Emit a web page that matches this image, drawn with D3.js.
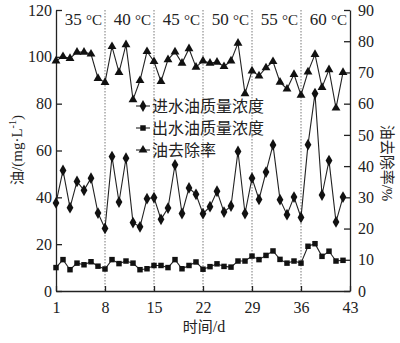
<!DOCTYPE html>
<html>
<head>
<meta charset="utf-8">
<script src="https://cdn.jsdelivr.net/npm/d3@7"></script>
<style>
  html, body { margin: 0; padding: 0; background: #fff; }
  svg { display: block; }
</style>
</head>
<body>
<svg id="chart" width="400" height="343"></svg>
<script>
// Days of operation
const days = d3.range(1, 43);
// Inlet oil concentration, mg/L (left axis)
const inletOil = [37.6, 51.5, 35.6, 46.8, 43.0, 48.2, 33.3, 26.7, 57.4, 38.0,
                  56.7, 29.2, 27.4, 39.4, 39.9, 30.6, 35.4, 53.9, 33.1, 44.0,
                  41.3, 33.0, 36.0, 42.6, 33.7, 36.3, 59.6, 33.1, 48.2, 39.1,
                  50.8, 62.4, 39.0, 32.6, 40.1, 31.4, 62.5, 84.3, 41.0, 55.7,
                  29.5, 40.1];
// Outlet oil concentration, mg/L (left axis)
const outletOil = [10.0, 13.4, 9.1, 11.9, 11.2, 12.5, 10.6, 9.4, 13.4, 11.7,
                   12.8, 11.9, 9.1, 9.5, 10.9, 10.9, 10.0, 13.4, 9.5, 10.9,
                   12.4, 9.3, 10.4, 11.6, 10.5, 10.2, 12.8, 12.8, 14.9, 13.4,
                   15.2, 17.1, 13.5, 11.9, 12.8, 11.9, 19.1, 20.2, 14.8, 17.0,
                   12.8, 13.1];
// Oil removal rate, % (right axis)
const removalRate = [73.7, 75.1, 74.5, 76.5, 76.5, 75.9, 68.1, 66.8, 78.3, 70.0,
                     78.9, 61.3, 67.4, 76.7, 73.5, 67.1, 74.1, 76.6, 73.0, 77.6,
                     71.7, 73.7, 73.0, 73.3, 71.9, 73.7, 79.4, 63.2, 70.5, 68.9,
                     71.5, 73.5, 66.9, 64.7, 69.4, 62.7, 70.2, 75.8, 65.2, 70.9,
                     58.6, 70.0];
// Temperature stages and their boundaries (day)
const stageBounds = [1, 8, 15, 22, 29, 36, 43];
const stageTemps = ["35", "40", "45", "50", "55", "60"];
const xTicks = [1, 8, 15, 22, 29, 36, 43];
const leftTicks = [0, 20, 40, 60, 80, 100, 120];
const rightTicks = [0, 10, 20, 30, 40, 50, 60, 70, 80, 90];
const legendLabels = ["进水油质量浓度", "出水油质量浓度", "油去除率"];

const svg = d3.select("#chart");
const plotL = 56, plotR = 350, plotT = 10, plotB = 291;

const x = d3.scaleLinear().domain([1, 43]).range([plotL, plotR]);
const yL = d3.scaleLinear().domain([0, 120]).range([plotB, plotT]);
const yR = d3.scaleLinear().domain([0, 90]).range([plotB, plotT]);

const serif = '"Times New Roman", "Liberation Serif", "DejaVu Serif", serif';
const cjk = '"Noto Sans CJK SC", "Noto Sans", sans-serif';

// Stage separators
svg.append("g").selectAll("line")
  .data(stageBounds.slice(1, -1))
  .join("line")
  .attr("x1", d => x(d)).attr("x2", d => x(d))
  .attr("y1", plotT).attr("y2", plotB)
  .attr("stroke", "#555").attr("stroke-width", 0.8)
  .attr("stroke-dasharray", "1.5,1.5");

// Stage labels: temperature digits plus a serif °C
const st = svg.append("g").selectAll("text")
  .data(stageTemps)
  .join("text")
  .attr("x", (d, i) => (x(stageBounds[i]) + x(stageBounds[i + 1])) / 2 + 3)
  .attr("y", 25)
  .attr("text-anchor", "middle")
  .attr("font-family", serif)
  .attr("font-size", 17)
  .attr("fill", "#222");
st.append("tspan").text(d => d + " ");
st.append("tspan").attr("font-size", 15).text("°C");

// Axes (ticks pointing inward)
const gx = svg.append("g").attr("transform", `translate(0,${plotB})`)
  .call(d3.axisBottom(x).tickValues(xTicks).tickSizeInner(-5).tickSizeOuter(0).tickPadding(9).tickFormat(d3.format("d")));
const gl = svg.append("g").attr("transform", `translate(${plotL},0)`)
  .call(d3.axisLeft(yL).tickValues(leftTicks).tickSizeInner(-6).tickSizeOuter(0).tickPadding(4));
const gr = svg.append("g").attr("transform", `translate(${plotR},0)`)
  .call(d3.axisRight(yR).tickValues(rightTicks).tickSizeInner(-6).tickSizeOuter(0).tickPadding(8));
[gx, gl, gr].forEach(g => {
  g.attr("font-family", serif).attr("font-size", 16);
  g.select(".domain").attr("stroke", "#222").attr("stroke-width", 1.3);
  g.selectAll(".tick line").attr("stroke", "#222").attr("stroke-width", 1.3);
  g.selectAll(".tick text").attr("fill", "#222");
});
gx.selectAll(".tick text").attr("dy", "0.8em");

// Series
const series = [
  { values: inletOil, y: yL, shape: d3.symbolDiamond, size: 40 },
  { values: outletOil, y: yL, shape: d3.symbolSquare, size: 30 },
  { values: removalRate, y: yR, shape: d3.symbolTriangle, size: 34 }
];

series.forEach(s => {
  const pts = days.map((d, i) => [x(d), s.y(s.values[i])]);
  svg.append("path")
    .attr("d", d3.line()(pts))
    .attr("fill", "none").attr("stroke", "#222").attr("stroke-width", 1.1);
  svg.append("g").selectAll("path")
    .data(pts)
    .join("path")
    .attr("transform", p => `translate(${p[0]},${p[1]})`)
    .attr("d", d3.symbol().type(s.shape).size(s.size))
    .attr("fill", "#111");
});

// Legend
const lg = svg.append("g");
legendLabels.forEach((lab, i) => {
  const ly = 106 + i * 22;
  lg.append("line").attr("x1", 136).attr("x2", 150).attr("y1", ly).attr("y2", ly)
    .attr("stroke", "#222").attr("stroke-width", 1.1);
  lg.append("path").attr("transform", `translate(143,${ly})`)
    .attr("d", d3.symbol().type(series[i].shape).size(series[i].size))
    .attr("fill", "#111");
  lg.append("text").attr("x", 152).attr("y", ly + 6)
    .attr("font-family", cjk).attr("font-size", 16).attr("fill", "#222")
    .text(lab);
});

// Axis titles
const yt = svg.append("text")
  .attr("transform", "translate(22,150) rotate(-90)")
  .attr("text-anchor", "middle")
  .attr("font-size", 14).attr("fill", "#222");
yt.append("tspan").attr("font-family", cjk).text("油");
yt.append("tspan").attr("font-family", serif).attr("font-size", 15).text("/(mg·L");
yt.append("tspan").attr("font-family", serif).attr("font-size", 10).attr("dy", -6).text("-1");
yt.append("tspan").attr("font-family", serif).attr("font-size", 15).attr("dy", 6).text(")");

const rt = svg.append("text")
  .attr("transform", "translate(382,163) rotate(90)")
  .attr("text-anchor", "middle")
  .attr("font-size", 15).attr("fill", "#222");
rt.append("tspan").attr("font-family", cjk).text("油去除率");
rt.append("tspan").attr("font-family", serif).text("/%");

const xt = svg.append("text")
  .attr("x", 204).attr("y", 332)
  .attr("text-anchor", "middle")
  .attr("font-size", 15).attr("fill", "#222");
xt.append("tspan").attr("font-family", cjk).text("时间");
xt.append("tspan").attr("font-family", serif).attr("font-size", 16).text("/d");
</script>
</body>
</html>
